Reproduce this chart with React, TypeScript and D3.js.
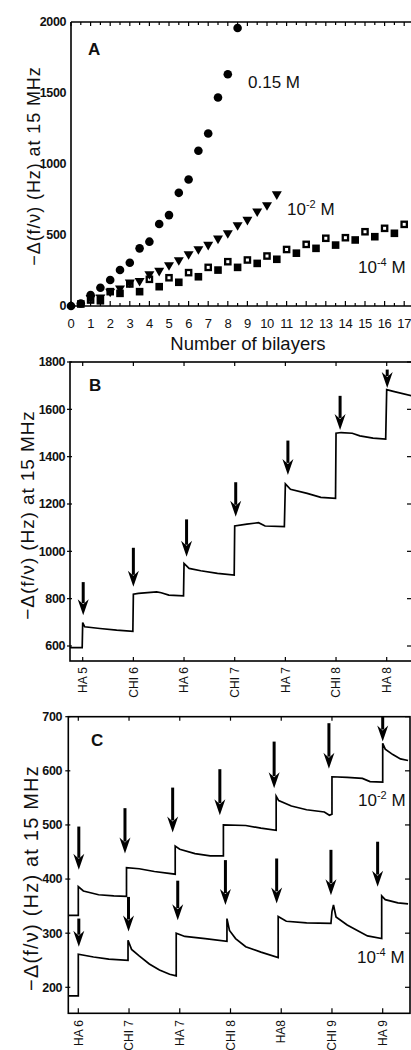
import React from 'react';
import * as d3 from 'd3';

const FONT = '"Liberation Sans", Arial, Helvetica, sans-serif';

// ---------- Panel A data ----------
const circX = [0, 0.5, 1, 1.5, 2, 2.5, 3, 3.5, 4, 4.5, 5, 5.5, 6, 6.5, 7, 7.5, 8, 8.5];
const circV = [0, 18, 77, 129, 183, 253, 305, 406, 453, 577, 640, 797, 891, 1093, 1215, 1468, 1632, 1958];
const triX = [1, 1.5, 2, 2.5, 3, 3.5, 4, 4.5, 5, 5.5, 6, 6.5, 7, 7.5, 8, 8.5, 9, 9.5, 10, 10.5];
const triV = [50, 55, 95, 118, 160, 171, 218, 242, 282, 317, 359, 394, 425, 469, 507, 563, 601, 660, 704, 781];
const sqX = [0.5, 1, 1.5, 2, 2.5, 3, 3.5, 4, 4.5, 5, 5.5, 6, 6.5, 7, 7.5, 8, 8.5, 9, 9.5, 10, 10.5, 11, 11.5, 12, 12.5, 13, 13.5, 14, 14.5, 15, 15.5, 16, 16.5, 17];
const sqV = [14, 42, 37, 101, 89, 155, 101, 188, 136, 199, 167, 235, 206, 272, 253, 312, 272, 324, 300, 352, 329, 398, 372, 434, 406, 477, 429, 481, 465, 523, 488, 547, 512, 575];
const aXTicks = [0, 1, 2, 3, 4, 5, 6, 7, 8, 9, 10, 11, 12, 13, 14, 15, 16, 17];
const aYTicks = [0, 500, 1000, 1500, 2000];

// ---------- Panel B data ----------
const bLabels = ['HA 5', 'CHI 6', 'HA 6', 'CHI 7', 'HA 7', 'CHI 8', 'HA 8'];
const bYTicks = [600, 800, 1000, 1200, 1400, 1600, 1800];
const bT = [-0.25, -0.01, 0, 0.04, 0.34, 0.67, 0.99, 1.0, 1.1, 1.46, 1.55, 1.7, 1.99, 2.0, 2.1, 2.33, 2.66, 2.99, 3.0, 3.24, 3.47, 3.6, 3.98, 4.0, 4.1, 4.43, 4.7, 4.99, 5.0, 5.1, 5.32, 5.47, 5.73, 5.98, 6.0, 6.13, 6.5];
const bV = [593, 593, 699, 681, 674, 667, 662, 819, 822, 829, 825, 815, 812, 949, 928, 918, 907, 900, 1107, 1115, 1121, 1107, 1104, 1285, 1262, 1245, 1228, 1224, 1499, 1502, 1499, 1488, 1478, 1474, 1683, 1676, 1657];
const bArrowT = [0.01, 1.0, 2.05, 3.02, 4.05, 5.08, 6.01];
const bArrowTop = [870, 1015, 1135, 1292, 1468, 1657, 1768];
const bArrowTip = [730, 850, 977, 1146, 1323, 1513, 1690];

// ---------- Panel C data ----------
const cLabels = ['HA 6', 'CHI 7', 'HA 7', 'CHI 8', 'HA8', 'CHI 9', 'HA 9'];
const cYTicks = [200, 300, 400, 500, 600, 700];
const cTopT = [-0.2, 0, 0, 0.1, 0.4, 0.7, 0.95, 0.95, 1.2, 1.5, 1.91, 1.91, 2.0, 2.3, 2.6, 2.86, 2.86, 3.3, 3.6, 3.9, 3.9, 3.95, 4.2, 4.5, 4.85, 4.95, 5.0, 5.0, 5.3, 5.6, 5.75, 6.0, 6.0, 6.05, 6.2, 6.35, 6.5];
const cTopV = [333, 333, 386, 378, 371, 369, 368, 421, 419, 414, 409, 461, 455, 447, 443, 443, 500, 499, 494, 490, 553, 545, 535, 528, 524, 518, 520, 589, 588, 586, 580, 579, 651, 640, 630, 622, 619];
const cBotT = [-0.2, 0, 0, 0.3, 0.6, 0.98, 0.98, 1.05, 1.2, 1.4, 1.6, 1.8, 1.93, 1.93, 2.1, 2.5, 2.93, 2.93, 2.98, 3.1, 3.3, 3.6, 3.94, 3.94, 4.1, 4.5, 4.98, 5.0, 5.03, 5.08, 5.3, 5.5, 5.7, 5.98, 5.98, 6.05, 6.3, 6.5];
const cBotV = [184, 184, 261, 256, 252, 250, 287, 270, 258, 243, 232, 224, 221, 300, 294, 290, 285, 327, 305, 290, 275, 265, 255, 331, 322, 319, 318, 340, 352, 330, 315, 305, 295, 290, 369, 362, 356, 354];
const cTopArrowT = [0.01, 0.92, 1.86, 2.79, 3.86, 4.94, 6.0];
const cTopArrowTop = [497, 531, 569, 603, 654, 688, 700];
const cTopArrowTip = [417, 447, 486, 518, 568, 604, 654];
const cBotArrowT = [0.01, 0.99, 1.96, 2.9, 3.91, 4.98, 5.9];
const cBotArrowTop = [327, 367, 397, 435, 438, 454, 469];
const cBotArrowTip = [275, 303, 324, 352, 355, 370, 386];

const Y_TITLE = '\u2212\u0394(f/\u03BD) (Hz) at 15 MHz';

function Arrow({ x, y1, y2 }: { x: number; y1: number; y2: number }) {
  const head = 16;
  return (
    <g>
      <line x1={x} y1={y1} x2={x} y2={y2 - head + 4} stroke="#000" strokeWidth={3} />
      <path d={`M${x},${y2} L${x - 5.5},${y2 - head} L${x},${y2 - head + 5} L${x + 5.5},${y2 - head} Z`} fill="#000" />
    </g>
  );
}

function RotLabel({ x, y, text, size, spacing }: { x: number; y: number; text: string; size: number; spacing: number }) {
  return (
    <text
      transform={`translate(${x},${y}) rotate(-90)`}
      textAnchor="middle"
      dy="0.35em"
      fontFamily={FONT}
      fontSize={size}
      letterSpacing={spacing}
      fill="#111"
    >
      {text}
    </text>
  );
}

function Conc({ x, y, exp }: { x: number; y: number; exp: string }) {
  return (
    <text x={x} y={y} fontFamily={FONT} fontSize={17} fill="#111">
      10
      <tspan dy={-7} fontSize={11}>{exp}</tspan>
      <tspan dy={7}> M</tspan>
    </text>
  );
}

const tickFont = { fontFamily: FONT, fontSize: 12.5, fontWeight: 'bold' as const, letterSpacing: -0.4, fill: '#111' };

function PanelA() {
  const x = d3.scaleLinear().domain([0, 17]).range([71, 404.2]);
  const y = d3.scaleLinear().domain([0, 2000]).range([306, 22]);
  const halfTicks = d3.range(0, 17.6, 0.5);
  const triPath = (cx: number, cy: number) => `M${cx - 5},${cy - 3.8} L${cx + 5},${cy - 3.8} L${cx},${cy + 4.8} Z`;
  return (
    <g>
      <line x1={71} y1={22} x2={420} y2={22} stroke="#000" strokeWidth={1.6} />
      <line x1={71} y1={306} x2={420} y2={306} stroke="#000" strokeWidth={1.6} />
      <line x1={71} y1={22} x2={71} y2={306} stroke="#000" strokeWidth={1.6} />
      {halfTicks.map((t) => (
        <g key={`at${t}`}>
          <line x1={x(t)} x2={x(t)} y1={22} y2={22 + (t % 1 === 0 ? 4 : 3)} stroke="#000" strokeWidth={1.2} />
          <line x1={x(t)} x2={x(t)} y1={306} y2={306 - (t % 1 === 0 ? 5 : 3)} stroke="#000" strokeWidth={1.2} />
        </g>
      ))}
      {aXTicks.map((t) => (
        <text key={`ax${t}`} x={x(t)} y={328} textAnchor="middle" fontFamily={FONT} fontSize={13} letterSpacing={-0.4} fill="#111">
          {t}
        </text>
      ))}
      {aYTicks.map((t) => (
        <text key={`ay${t}`} x={66} y={y(t)} dy="0.35em" textAnchor="end" {...tickFont}>
          {t}
        </text>
      ))}
      {sqX.map((t, i) => {
        const cx = x(t);
        const cy = y(sqV[i]);
        const open = t % 1 === 0;
        return (
          <g key={`sq${i}`}>
            <rect x={cx - 3.8} y={cy - 3.8} width={7.6} height={7.6} fill="#000" />
            {open && <rect x={cx - 1.5} y={cy - 1.5} width={3} height={3} fill="#fff" />}
          </g>
        );
      })}
      {triX.map((t, i) => (
        <path key={`tr${i}`} d={triPath(x(t), y(triV[i]))} fill="#000" />
      ))}
      {circX.map((t, i) => (
        <circle key={`c${i}`} cx={x(t)} cy={y(circV[i])} r={4.3} fill="#000" />
      ))}
      <text x={88} y={55} fontFamily={FONT} fontSize={17} fontWeight="bold" fill="#111">A</text>
      <text x={248} y={88} fontFamily={FONT} fontSize={17} fill="#111">0.15 M</text>
      <Conc x={287} y={215} exp={'-2'} />
      <Conc x={358} y={273} exp={'-4'} />
      <RotLabel x={34} y={166} text={Y_TITLE} size={18} spacing={0.9} />
      <text x={248} y={350} textAnchor="middle" fontFamily={FONT} fontSize={18.5} fill="#111">Number of bilayers</text>
    </g>
  );
}

function PanelB() {
  const x = d3.scaleLinear().domain([0, 6]).range([82.7, 386.7]);
  const y = d3.scaleLinear().domain([600, 1800]).range([646, 362]);
  const line = d3.line<number>().x((_, i) => x(bT[i])).y((d) => y(d));
  const L = 70, T = 362, B = 661, R = 413;
  return (
    <g>
      <rect x={L} y={T} width={R - L} height={B - T} fill="none" stroke="#000" strokeWidth={1.6} />
      {bYTicks.map((t) => (
        <g key={`by${t}`}>
          <line x1={L - 3} x2={L + 2} y1={y(t)} y2={y(t)} stroke="#000" strokeWidth={1.2} />
          <line x1={R - 6} x2={R} y1={y(t)} y2={y(t)} stroke="#000" strokeWidth={1.2} />
          <text x={65} y={y(t)} dy="0.35em" textAnchor="end" {...tickFont}>
            {t}
          </text>
        </g>
      ))}
      {bLabels.map((lab, i) => (
        <g key={`bx${i}`}>
          <line x1={x(i)} x2={x(i)} y1={T} y2={T + 4} stroke="#000" strokeWidth={1.2} />
          <line x1={x(i)} x2={x(i)} y1={B} y2={B - 4} stroke="#000" strokeWidth={1.2} />
          <text transform={`translate(${x(i)},667) rotate(-90)`} textAnchor="end" dy="0.35em" fontFamily={FONT} fontSize={12} fill="#111">
            {lab}
          </text>
        </g>
      ))}
      <path d={line(bV) || ''} fill="none" stroke="#000" strokeWidth={1.7} />
      {bArrowT.map((t, i) => (
        <Arrow key={`ba${i}`} x={x(t)} y1={y(bArrowTop[i])} y2={y(bArrowTip[i])} />
      ))}
      <text x={89} y={391} fontFamily={FONT} fontSize={17} fontWeight="bold" fill="#111">B</text>
      <RotLabel x={27} y={515} text={Y_TITLE} size={19} spacing={0.9} />
    </g>
  );
}

function PanelC() {
  const x = d3.scaleLinear().domain([0, 6]).range([78.3, 382.7]);
  const y = d3.scaleLinear().domain([200, 700]).range([987.3, 716.7]);
  const lineTop = d3.line<number>().x((_, i) => x(cTopT[i])).y((d) => y(d));
  const lineBot = d3.line<number>().x((_, i) => x(cBotT[i])).y((d) => y(d));
  const L = 68.3, T = 716.7, B = 1013.3, R = 410;
  return (
    <g>
      <rect x={L} y={T} width={R - L} height={B - T} fill="none" stroke="#000" strokeWidth={1.6} />
      {cYTicks.map((t) => (
        <g key={`cy${t}`}>
          <line x1={L - 3} x2={L + 2} y1={y(t)} y2={y(t)} stroke="#000" strokeWidth={1.2} />
          <line x1={R - 5} x2={R} y1={y(t)} y2={y(t)} stroke="#000" strokeWidth={1.2} />
          <text x={62} y={y(t)} dy="0.35em" textAnchor="end" {...tickFont}>
            {t}
          </text>
        </g>
      ))}
      {cLabels.map((lab, i) => (
        <g key={`cx${i}`}>
          <line x1={x(i)} x2={x(i)} y1={T} y2={T + 4} stroke="#000" strokeWidth={1.2} />
          <line x1={x(i)} x2={x(i)} y1={B} y2={B - 5} stroke="#000" strokeWidth={1.2} />
          <text transform={`translate(${x(i)},1020) rotate(-90)`} textAnchor="end" dy="0.35em" fontFamily={FONT} fontSize={12} fill="#111">
            {lab}
          </text>
        </g>
      ))}
      <path d={lineTop(cTopV) || ''} fill="none" stroke="#000" strokeWidth={1.7} />
      <path d={lineBot(cBotV) || ''} fill="none" stroke="#000" strokeWidth={1.7} />
      {cTopArrowT.map((t, i) => (
        <Arrow key={`cta${i}`} x={x(t)} y1={y(cTopArrowTop[i])} y2={y(cTopArrowTip[i])} />
      ))}
      {cBotArrowT.map((t, i) => (
        <Arrow key={`cba${i}`} x={x(t)} y1={y(cBotArrowTop[i])} y2={y(cBotArrowTip[i])} />
      ))}
      <text x={91} y={746} fontFamily={FONT} fontSize={17} fontWeight="bold" fill="#111">C</text>
      <Conc x={358} y={806} exp={'-2'} />
      <Conc x={357} y={963} exp={'-4'} />
      <RotLabel x={31} y={878} text={Y_TITLE} size={20} spacing={1.2} />
    </g>
  );
}

export default function App() {
  return (
    <svg
      width={411}
      height={1050}
      viewBox="0 0 411 1050"
      style={{ position: 'absolute', left: 0, top: 0, background: '#fff' }}
    >
      <rect x={0} y={0} width={411} height={1050} fill="#fff" />
      <PanelA />
      <PanelB />
      <PanelC />
    </svg>
  );
}
